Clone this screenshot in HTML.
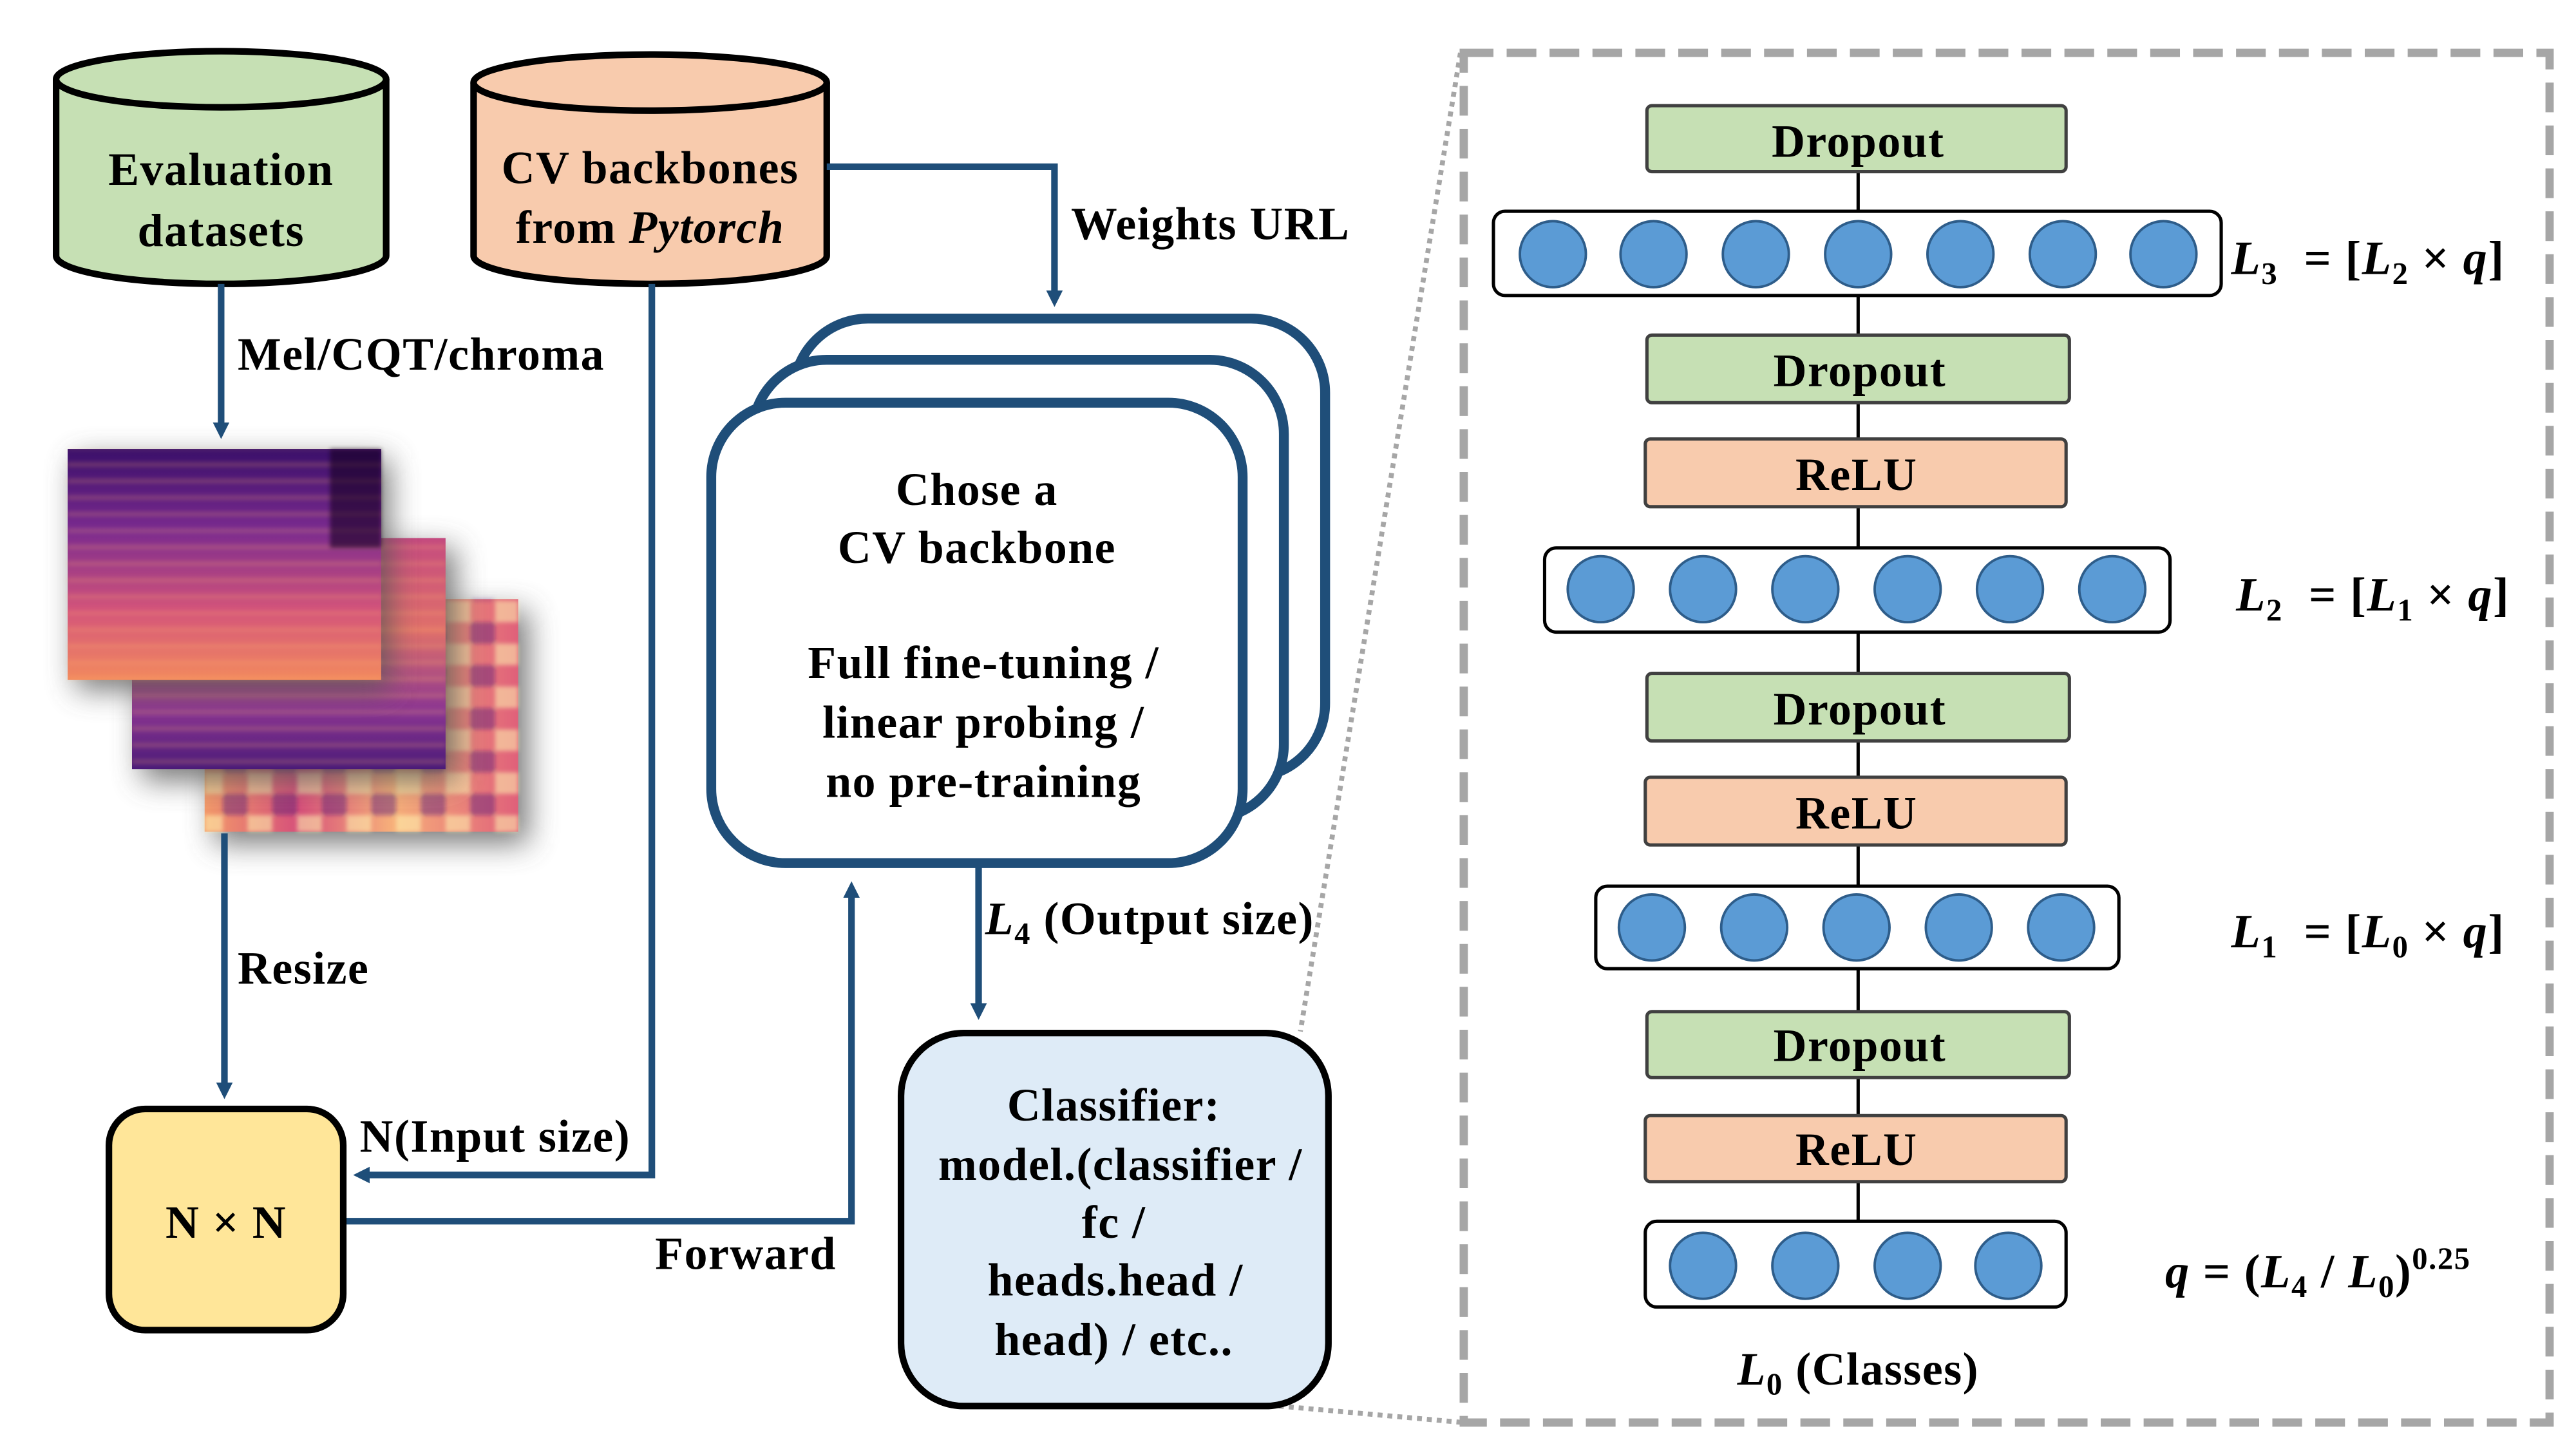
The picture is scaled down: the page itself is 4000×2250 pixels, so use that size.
<!DOCTYPE html>
<html><head><meta charset="utf-8"><style>
html,body{margin:0;padding:0;background:#fff;}
svg{display:block;}
text{font-family:"Liberation Serif",serif;font-weight:bold;fill:#000;letter-spacing:0.6px;}
</style></head><body>
<svg width="4000" height="2250" viewBox="0 0 1561 878" xmlns="http://www.w3.org/2000/svg">
<defs>
<filter id="sh" x="-30%" y="-30%" width="160%" height="160%"><feGaussianBlur stdDeviation="9"/></filter>
<filter id="bl"><feGaussianBlur stdDeviation="1.2"/></filter>
<linearGradient id="sp1" x1="0" y1="0" x2="0" y2="1">
<stop offset="0" stop-color="#3a0f6a"/><stop offset="0.35" stop-color="#7a2a8f"/><stop offset="0.7" stop-color="#d4547a"/><stop offset="1" stop-color="#f28a5e"/></linearGradient>
<linearGradient id="sp2" x1="0" y1="0" x2="0" y2="1">
<stop offset="0" stop-color="#c44a7f"/><stop offset="0.4" stop-color="#e0706a"/><stop offset="0.75" stop-color="#8a3592"/><stop offset="1" stop-color="#4a1a78"/></linearGradient>
<linearGradient id="sp3" x1="0" y1="0" x2="1" y2="0">
<stop offset="0" stop-color="#f39a6a"/><stop offset="0.3" stop-color="#d6507a"/><stop offset="0.6" stop-color="#f7b07a"/><stop offset="1" stop-color="#e0607a"/></linearGradient>
<pattern id="stripes" width="7" height="10" patternUnits="userSpaceOnUse"><rect y="0" width="7" height="3" fill="#ffb070" opacity="0.2"/></pattern>
<pattern id="chk" width="30" height="26" patternUnits="userSpaceOnUse"><rect width="15" height="13" fill="#fff3b0" opacity="0.55"/><rect x="15" y="13" width="15" height="13" fill="#5a1a7a" opacity="0.45"/></pattern>
<marker id="ah" markerWidth="10" markerHeight="10" refX="6" refY="5" orient="auto" markerUnits="userSpaceOnUse" viewBox="0 0 10 10"><path d="M0,0 L10,5 L0,10z" fill="#1f4e79"/></marker>
</defs>

<line x1="885" y1="32" x2="788" y2="625" stroke="#a6a6a6" stroke-width="3" stroke-dasharray="3 3"/>
<line x1="775" y1="852" x2="887" y2="862" stroke="#a6a6a6" stroke-width="3" stroke-dasharray="3 3"/>

<g stroke="#000" stroke-width="4">
<path d="M34,48 L34,155 A100,17 0 0 0 234,155 L234,48" fill="#c6e0b4"/>
<ellipse cx="134" cy="48" rx="100" ry="17" fill="#c6e0b4"/>
<path d="M287,50 L287,155 A107,17 0 0 0 501,155 L501,50" fill="#f8cbad"/>
<ellipse cx="394" cy="50" rx="107" ry="17" fill="#f8cbad"/>
</g>
<g font-size="28" text-anchor="middle">
<text x="134" y="112">Evaluation</text>
<text x="134" y="149">datasets</text>
<text x="394" y="111">CV backbones</text>
<text x="394" y="147">from <tspan font-style="italic">Pytorch</tspan></text>
</g>

<rect x="130" y="370" width="190" height="141" fill="#555" filter="url(#sh)" opacity="0.8"/>
<rect x="124" y="363" width="190" height="141" fill="url(#sp3)"/>
<rect x="124" y="363" width="190" height="141" fill="url(#chk)" filter="url(#bl)"/>
<rect x="86" y="332" width="190" height="141" fill="#555" filter="url(#sh)" opacity="0.8"/>
<rect x="80" y="326" width="190" height="140" fill="url(#sp2)"/>
<rect x="80" y="326" width="190" height="140" fill="url(#stripes)" filter="url(#bl)"/>
<rect x="46" y="278" width="190" height="140" fill="#555" filter="url(#sh)" opacity="0.8"/>
<rect x="41" y="272" width="190" height="140" fill="url(#sp1)"/>
<rect x="41" y="272" width="190" height="140" fill="url(#stripes)" filter="url(#bl)"/>
<rect x="200" y="272" width="31" height="60" fill="#150520" opacity="0.6" filter="url(#bl)"/>

<g stroke="#1f4e79" stroke-width="4" fill="none">
<line x1="134" y1="172" x2="134" y2="262" marker-end="url(#ah)"/>
<line x1="136" y1="505" x2="136" y2="662" marker-end="url(#ah)"/>
<polyline points="501,101 639,101 639,182" marker-end="url(#ah)"/>
<polyline points="395,172 395,712 218,712" marker-end="url(#ah)"/>
<polyline points="209,740 516,740 516,538" marker-end="url(#ah)"/>
<line x1="593" y1="525" x2="593" y2="614" marker-end="url(#ah)"/>
</g>
<g font-size="28">
<text x="144" y="224">Mel/CQT/chroma</text>
<text x="649" y="145">Weights URL</text>
<text x="144" y="596">Resize</text>
<text x="218" y="698">N(Input size)</text>
<text x="397" y="769">Forward</text>
<text x="597" y="566"><tspan font-style="italic">L</tspan><tspan font-size="19" dy="6">4</tspan><tspan dy="-6"> (Output size)</tspan></text>
</g>

<g stroke="#1f4e79" stroke-width="6" fill="#fff">
<rect x="481" y="193" width="322" height="278" rx="45"/>
<rect x="456" y="218" width="322" height="278" rx="45"/>
<rect x="431" y="244" width="322" height="279" rx="45"/>
</g>
<g font-size="28" text-anchor="middle">
<text x="592" y="306">Chose a</text>
<text x="592" y="341">CV backbone</text>
<text x="596" y="411">Full fine-tuning /</text>
<text x="596" y="447">linear probing /</text>
<text x="596" y="483">no pre-training</text>
</g>

<rect x="546" y="626" width="259" height="226" rx="38" fill="#deebf7" stroke="#000" stroke-width="4"/>
<g font-size="28" text-anchor="middle">
<text x="675" y="679">Classifier:</text>
<text x="679" y="715">model.(classifier /</text>
<text x="675" y="750">fc /</text>
<text x="676" y="785">heads.head /</text>
<text x="675" y="821">head) / etc..</text>
</g>

<rect x="66" y="672" width="142" height="134" rx="22" fill="#ffe699" stroke="#000" stroke-width="4"/>
<text x="137" y="750" font-size="28" text-anchor="middle">N × N</text>

<rect x="887" y="32" width="658" height="830" fill="none" stroke="#a6a6a6" stroke-width="5" stroke-dasharray="18 8"/>

<line x1="1126" y1="104" x2="1126" y2="740" stroke="#000" stroke-width="2"/>
<g stroke="#404040" stroke-width="2">
<rect x="998" y="64" width="254" height="40" rx="3" fill="#c6e0b4"/>
<rect x="998" y="203" width="256" height="41" rx="3" fill="#c6e0b4"/>
<rect x="998" y="408" width="256" height="41" rx="3" fill="#c6e0b4"/>
<rect x="998" y="613" width="256" height="40" rx="3" fill="#c6e0b4"/>
<rect x="997" y="266" width="255" height="41" rx="3" fill="#f8cbad"/>
<rect x="997" y="471" width="255" height="41" rx="3" fill="#f8cbad"/>
<rect x="997" y="676" width="255" height="40" rx="3" fill="#f8cbad"/>
</g>
<g stroke="#000" stroke-width="2" fill="#fff">
<rect x="905" y="128" width="441" height="51" rx="7"/>
<rect x="936" y="332" width="379" height="51" rx="7"/>
<rect x="967" y="537" width="317" height="50" rx="7"/>
<rect x="997" y="740" width="255" height="52" rx="7"/>
</g>
<g fill="#5b9bd5" stroke="#2e5d8a" stroke-width="1.5">
<circle cx="941" cy="154" r="20"/><circle cx="1002" cy="154" r="20"/><circle cx="1064" cy="154" r="20"/><circle cx="1126" cy="154" r="20"/><circle cx="1188" cy="154" r="20"/><circle cx="1250" cy="154" r="20"/><circle cx="1311" cy="154" r="20"/>
<circle cx="970" cy="357" r="20"/><circle cx="1032" cy="357" r="20"/><circle cx="1094" cy="357" r="20"/><circle cx="1156" cy="357" r="20"/><circle cx="1218" cy="357" r="20"/><circle cx="1280" cy="357" r="20"/>
<circle cx="1001" cy="562" r="20"/><circle cx="1063" cy="562" r="20"/><circle cx="1125" cy="562" r="20"/><circle cx="1187" cy="562" r="20"/><circle cx="1249" cy="562" r="20"/>
<circle cx="1032" cy="767" r="20"/><circle cx="1094" cy="767" r="20"/><circle cx="1156" cy="767" r="20"/><circle cx="1217" cy="767" r="20"/>
</g>
<g font-size="28" text-anchor="middle">
<text x="1126" y="95">Dropout</text>
<text x="1127" y="234">Dropout</text>
<text x="1127" y="439">Dropout</text>
<text x="1127" y="643">Dropout</text>
<text x="1125" y="297">ReLU</text>
<text x="1125" y="502">ReLU</text>
<text x="1125" y="706">ReLU</text>
</g>
<g font-size="29">
<text x="1352" y="166" xml:space="preserve"><tspan font-style="italic">L</tspan><tspan font-size="19" dy="6">3</tspan><tspan dy="-6">  = [</tspan><tspan font-style="italic">L</tspan><tspan font-size="19" dy="6">2</tspan><tspan dy="-6"> × </tspan><tspan font-style="italic">q</tspan>]</text>
<text x="1355" y="370" xml:space="preserve"><tspan font-style="italic">L</tspan><tspan font-size="19" dy="6">2</tspan><tspan dy="-6">  = [</tspan><tspan font-style="italic">L</tspan><tspan font-size="19" dy="6">1</tspan><tspan dy="-6"> × </tspan><tspan font-style="italic">q</tspan>]</text>
<text x="1352" y="574" xml:space="preserve"><tspan font-style="italic">L</tspan><tspan font-size="19" dy="6">1</tspan><tspan dy="-6">  = [</tspan><tspan font-style="italic">L</tspan><tspan font-size="19" dy="6">0</tspan><tspan dy="-6"> × </tspan><tspan font-style="italic">q</tspan>]</text>
<text x="1312" y="780" xml:space="preserve"><tspan font-style="italic">q</tspan> = (<tspan font-style="italic">L</tspan><tspan font-size="19" dy="6">4</tspan><tspan dy="-6"> / </tspan><tspan font-style="italic">L</tspan><tspan font-size="19" dy="6">0</tspan><tspan dy="-6">)</tspan><tspan font-size="19" dy="-11">0.25</tspan></text>
<text x="1126" y="839" text-anchor="middle" font-size="28"><tspan font-style="italic">L</tspan><tspan font-size="19" dy="6">0</tspan><tspan dy="-6"> (Classes)</tspan></text>
</g>
</svg>
</body></html>
